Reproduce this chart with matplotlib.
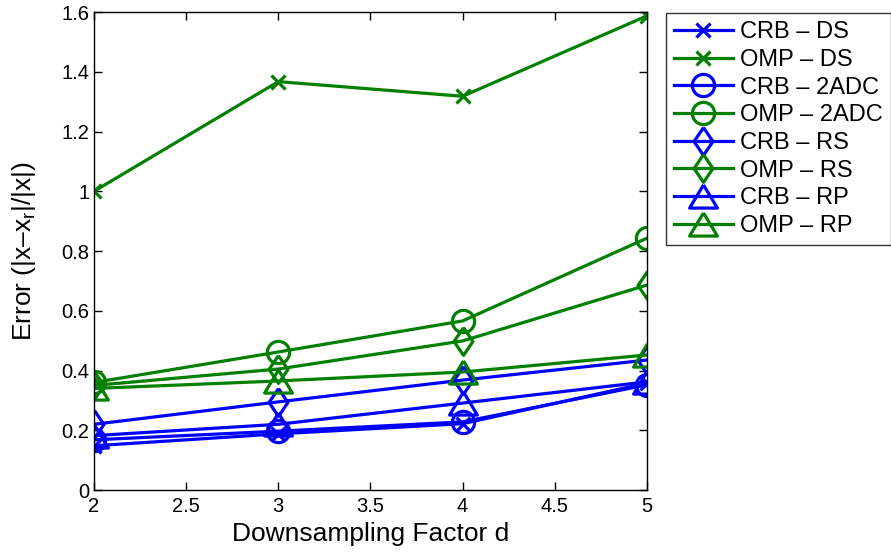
import matplotlib
matplotlib.use("Agg")
import matplotlib.pyplot as plt
from matplotlib.ticker import FuncFormatter

plt.rcParams['font.family'] = ['Liberation Sans', 'DejaVu Sans']
plt.rcParams['mathtext.fontset'] = 'custom'
plt.rcParams['mathtext.rm'] = 'Liberation Sans'
plt.rcParams['mathtext.it'] = 'Liberation Sans'

d = [2, 3, 4, 5]
crb_ds = [0.148, 0.188, 0.222, 0.358]
omp_ds = [1.0, 1.367, 1.318, 1.587]
crb_2adc = [0.168, 0.197, 0.228, 0.352]
omp_2adc = [0.36, 0.462, 0.566, 0.843]
crb_rs = [0.22, 0.295, 0.368, 0.435]
omp_rs = [0.35, 0.405, 0.499, 0.686]
crb_rp = [0.182, 0.22, 0.291, 0.362]
omp_rp = [0.34, 0.365, 0.395, 0.452]

labels = ['CRB – DS', 'OMP – DS', 'CRB – 2ADC', 'OMP – 2ADC',
          'CRB – RS', 'OMP – RS', 'CRB – RP', 'OMP – RP']
series = [crb_ds, omp_ds, crb_2adc, omp_2adc, crb_rs, omp_rs, crb_rp, omp_rp]

diamond = [(0, 1), (0.68, 0), (0, -1), (-0.68, 0), (0, 1)]
triangle = [(0, 1), (-1.2, -1), (1.2, -1), (0, 1)]
markers = ['x', 'x', 'o', 'o', diamond, diamond, triangle, triangle]
msizes = [10.5, 10.5, 16, 16, 20, 20, 20, 20]
colors = ['#0000ff', '#008000'] * 4

fig = plt.figure(figsize=(8.91, 5.59), dpi=100)
ax = fig.add_axes([0.1055, 0.1234, 0.6205, 0.8551])

for y, lab, m, ms, c in zip(series, labels, markers, msizes, colors):
    ax.plot(d, y, color=c, lw=2.3, marker=m, ms=ms,
            mfc='none', mec=c, mew=2.3, label=lab)

ax.set_xlim(2, 5)
ax.set_ylim(0, 1.6)
ax.set_xticks([2, 2.5, 3, 3.5, 4, 4.5, 5])
ax.set_yticks([0, 0.2, 0.4, 0.6, 0.8, 1.0, 1.2, 1.4, 1.6])
ax.xaxis.set_major_formatter(FuncFormatter(lambda v, p: '%g' % v))
ax.yaxis.set_major_formatter(FuncFormatter(lambda v, p: '%g' % v))
ax.tick_params(direction='in', top=True, right=True, labelsize=14.5, length=6, width=1)
ax.tick_params(axis='x', pad=5)
for s in ax.spines.values():
    s.set_linewidth(1)

ax.set_xlabel('Downsampling Factor d', fontsize=19, labelpad=4)
ax.set_ylabel(r'Error (|x–x$_\mathregular{r}$|/|x|)', fontsize=19, labelpad=17)

leg = ax.legend(loc='upper left', bbox_to_anchor=(1.034, 0.998), fontsize=17,
                frameon=True, fancybox=False, edgecolor='black',
                handlelength=2.5, labelspacing=0.24, borderpad=0.35,
                handletextpad=0.3, borderaxespad=0)
leg.get_frame().set_linewidth(1)

fig.savefig('out.png', dpi=100)
